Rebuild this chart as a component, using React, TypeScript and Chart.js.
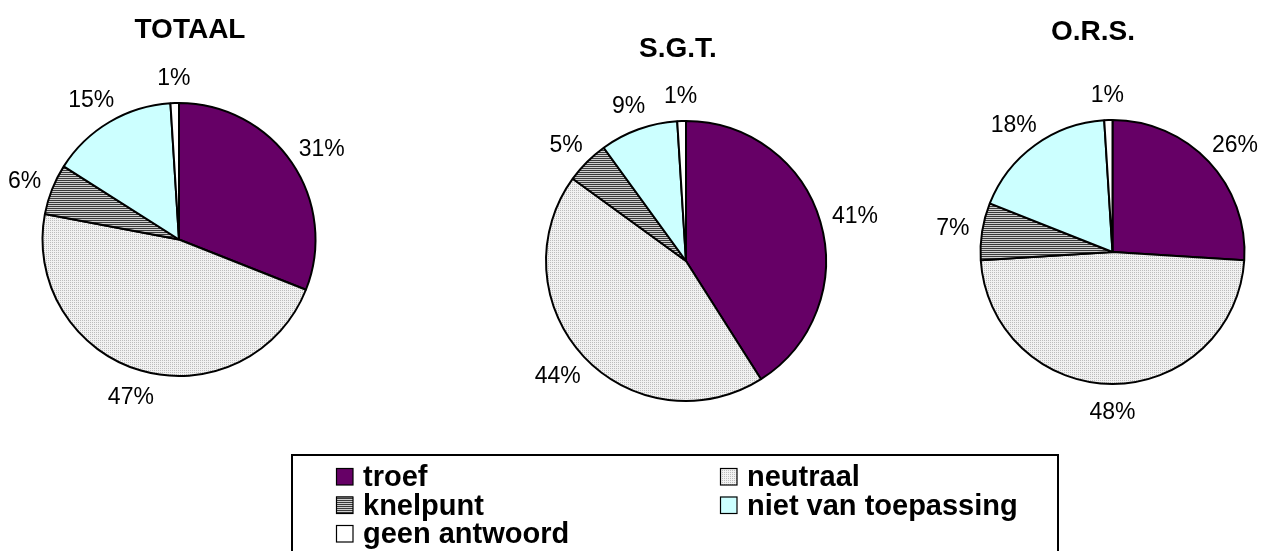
import React, { useEffect, useRef } from "react";
import { Chart, registerables } from "chart.js";

Chart.register(...registerables);

const categories = ["troef", "neutraal", "knelpunt", "niet van toepassing", "geen antwoord"];
const pieTitles = ["TOTAAL", "S.G.T.", "O.R.S."];
const totaalValues = [31, 47, 6, 15, 1];
const sgtValues = [41, 44, 5, 9, 1];
const orsValues = [26, 48, 7, 18, 1];

const W = 1272;
const H = 551;
const FONT = "'Liberation Sans', Arial, Helvetica, sans-serif";

const layouts = [
  { cx: 179, cy: 239.5, r: 136.5, tx: 190, ty: 28 },
  { cx: 686, cy: 261, r: 140, tx: 678, ty: 47 },
  { cx: 1112.5, cy: 252, r: 132, tx: 1093, ty: 30 },
];

function makePattern(draw: (c: CanvasRenderingContext2D) => void, w: number, h: number) {
  const c = document.createElement("canvas");
  c.width = w;
  c.height = h;
  const cx = c.getContext("2d")!;
  draw(cx);
  const p = document.createElement("canvas").getContext("2d")!.createPattern(c, "repeat");
  return p as CanvasPattern;
}

function buildFills() {
  const neutraal = makePattern((c) => {
    c.fillStyle = "#f2f2f2";
    c.fillRect(0, 0, 2, 2);
    c.fillStyle = "#bdbdbd";
    c.fillRect(0, 0, 1, 1);
  }, 2, 2);
  const knelpunt = makePattern((c) => {
    c.fillStyle = "#cfcfcf";
    c.fillRect(0, 0, 2, 2);
    c.fillStyle = "#3a3a3a";
    c.fillRect(0, 0, 2, 1);
  }, 2, 2);
  return ["#660066", neutraal, knelpunt, "#ccffff", "#ffffff"];
}

export default function App() {
  const refs = [useRef<HTMLCanvasElement>(null), useRef<HTMLCanvasElement>(null), useRef<HTMLCanvasElement>(null)];

  useEffect(() => {
    const fills = buildFills();
    const seriesList = [totaalValues, sgtValues, orsValues];
    const charts: Chart[] = [];

    seriesList.forEach((values, idx) => {
      const L = layouts[idx];
      const m = 4;
      const labelPlugin = {
        id: "pieText" + idx,
        afterDatasetsDraw(chart: any) {
          const ctx: CanvasRenderingContext2D = chart.ctx;
          const meta = chart.getDatasetMeta(0);
          ctx.save();
          // title
          ctx.font = `bold 28px ${FONT}`;
          ctx.fillStyle = "#000";
          ctx.textAlign = "center";
          ctx.textBaseline = "alphabetic";
          ctx.fillText(pieTitles[idx], L.tx, L.ty + 10);
          // percentage labels
          ctx.font = `23px ${FONT}`;
          const capH = 16.5;
          const boxH = 27;
          meta.data.forEach((arc: any, i: number) => {
            const p = arc.getProps(["x", "y", "startAngle", "endAngle", "outerRadius"], true);
            const mid = (p.startAngle + p.endAngle) / 2;
            const dx = Math.cos(mid);
            const dy = Math.sin(mid);
            const text = values[i] + "%";
            const w = ctx.measureText(text).width;
            const pad = 13;
            const lx = p.x + dx * (p.outerRadius + pad) + (dx * w) / 2;
            const ly = p.y + dy * (p.outerRadius + pad) + (dy * boxH) / 2;
            ctx.fillText(text, lx, ly + capH / 2);
          });
          // legend (drawn once)
          if (idx === 1) {
            ctx.lineWidth = 2;
            ctx.strokeStyle = "#000";
            ctx.strokeRect(292, 455, 766, 140);
            const colX = [336, 720];
            const rowY = [468, 496.5, 525];
            ctx.font = `bold 29px ${FONT}`;
            ctx.textAlign = "left";
            categories.forEach((name, k) => {
              const x = colX[k % 2];
              const y = rowY[Math.floor(k / 2)];
              ctx.fillStyle = fills[k] as any;
              ctx.fillRect(x, y, 17, 17);
              ctx.lineWidth = 1.2;
              ctx.strokeRect(x + 0.5, y + 0.5, 16.5, 16.5);
              ctx.fillStyle = "#000";
              ctx.fillText(name, x + 27, y + 18);
            });
          }
          ctx.restore();
        },
      };

      const chart = new Chart(refs[idx].current!, {
        type: "pie",
        data: {
          labels: categories,
          datasets: [
            {
              data: values,
              backgroundColor: fills as any,
              borderColor: "#000000",
              borderWidth: 2,
            },
          ],
        },
        options: {
          responsive: false,
          animation: false,
          radius: L.r,
          layout: {
            padding: {
              left: L.cx - L.r - m,
              right: W - (L.cx + L.r + m),
              top: L.cy - L.r - m,
              bottom: H - (L.cy + L.r + m),
            },
          },
          plugins: {
            legend: { display: false },
            tooltip: { enabled: false },
            title: { display: false },
          },
        } as any,
        plugins: [labelPlugin],
      });
      charts.push(chart);
    });

    return () => charts.forEach((c) => c.destroy());
  }, []);

  return (
    <div style={{ position: "fixed", left: 0, top: 0, width: W, height: H, background: "#fff", overflow: "hidden" }}>
      {refs.map((r, i) => (
        <canvas
          key={i}
          ref={r}
          width={W}
          height={H}
          style={{ position: "absolute", left: 0, top: 0, width: W, height: H }}
        />
      ))}
    </div>
  );
}
